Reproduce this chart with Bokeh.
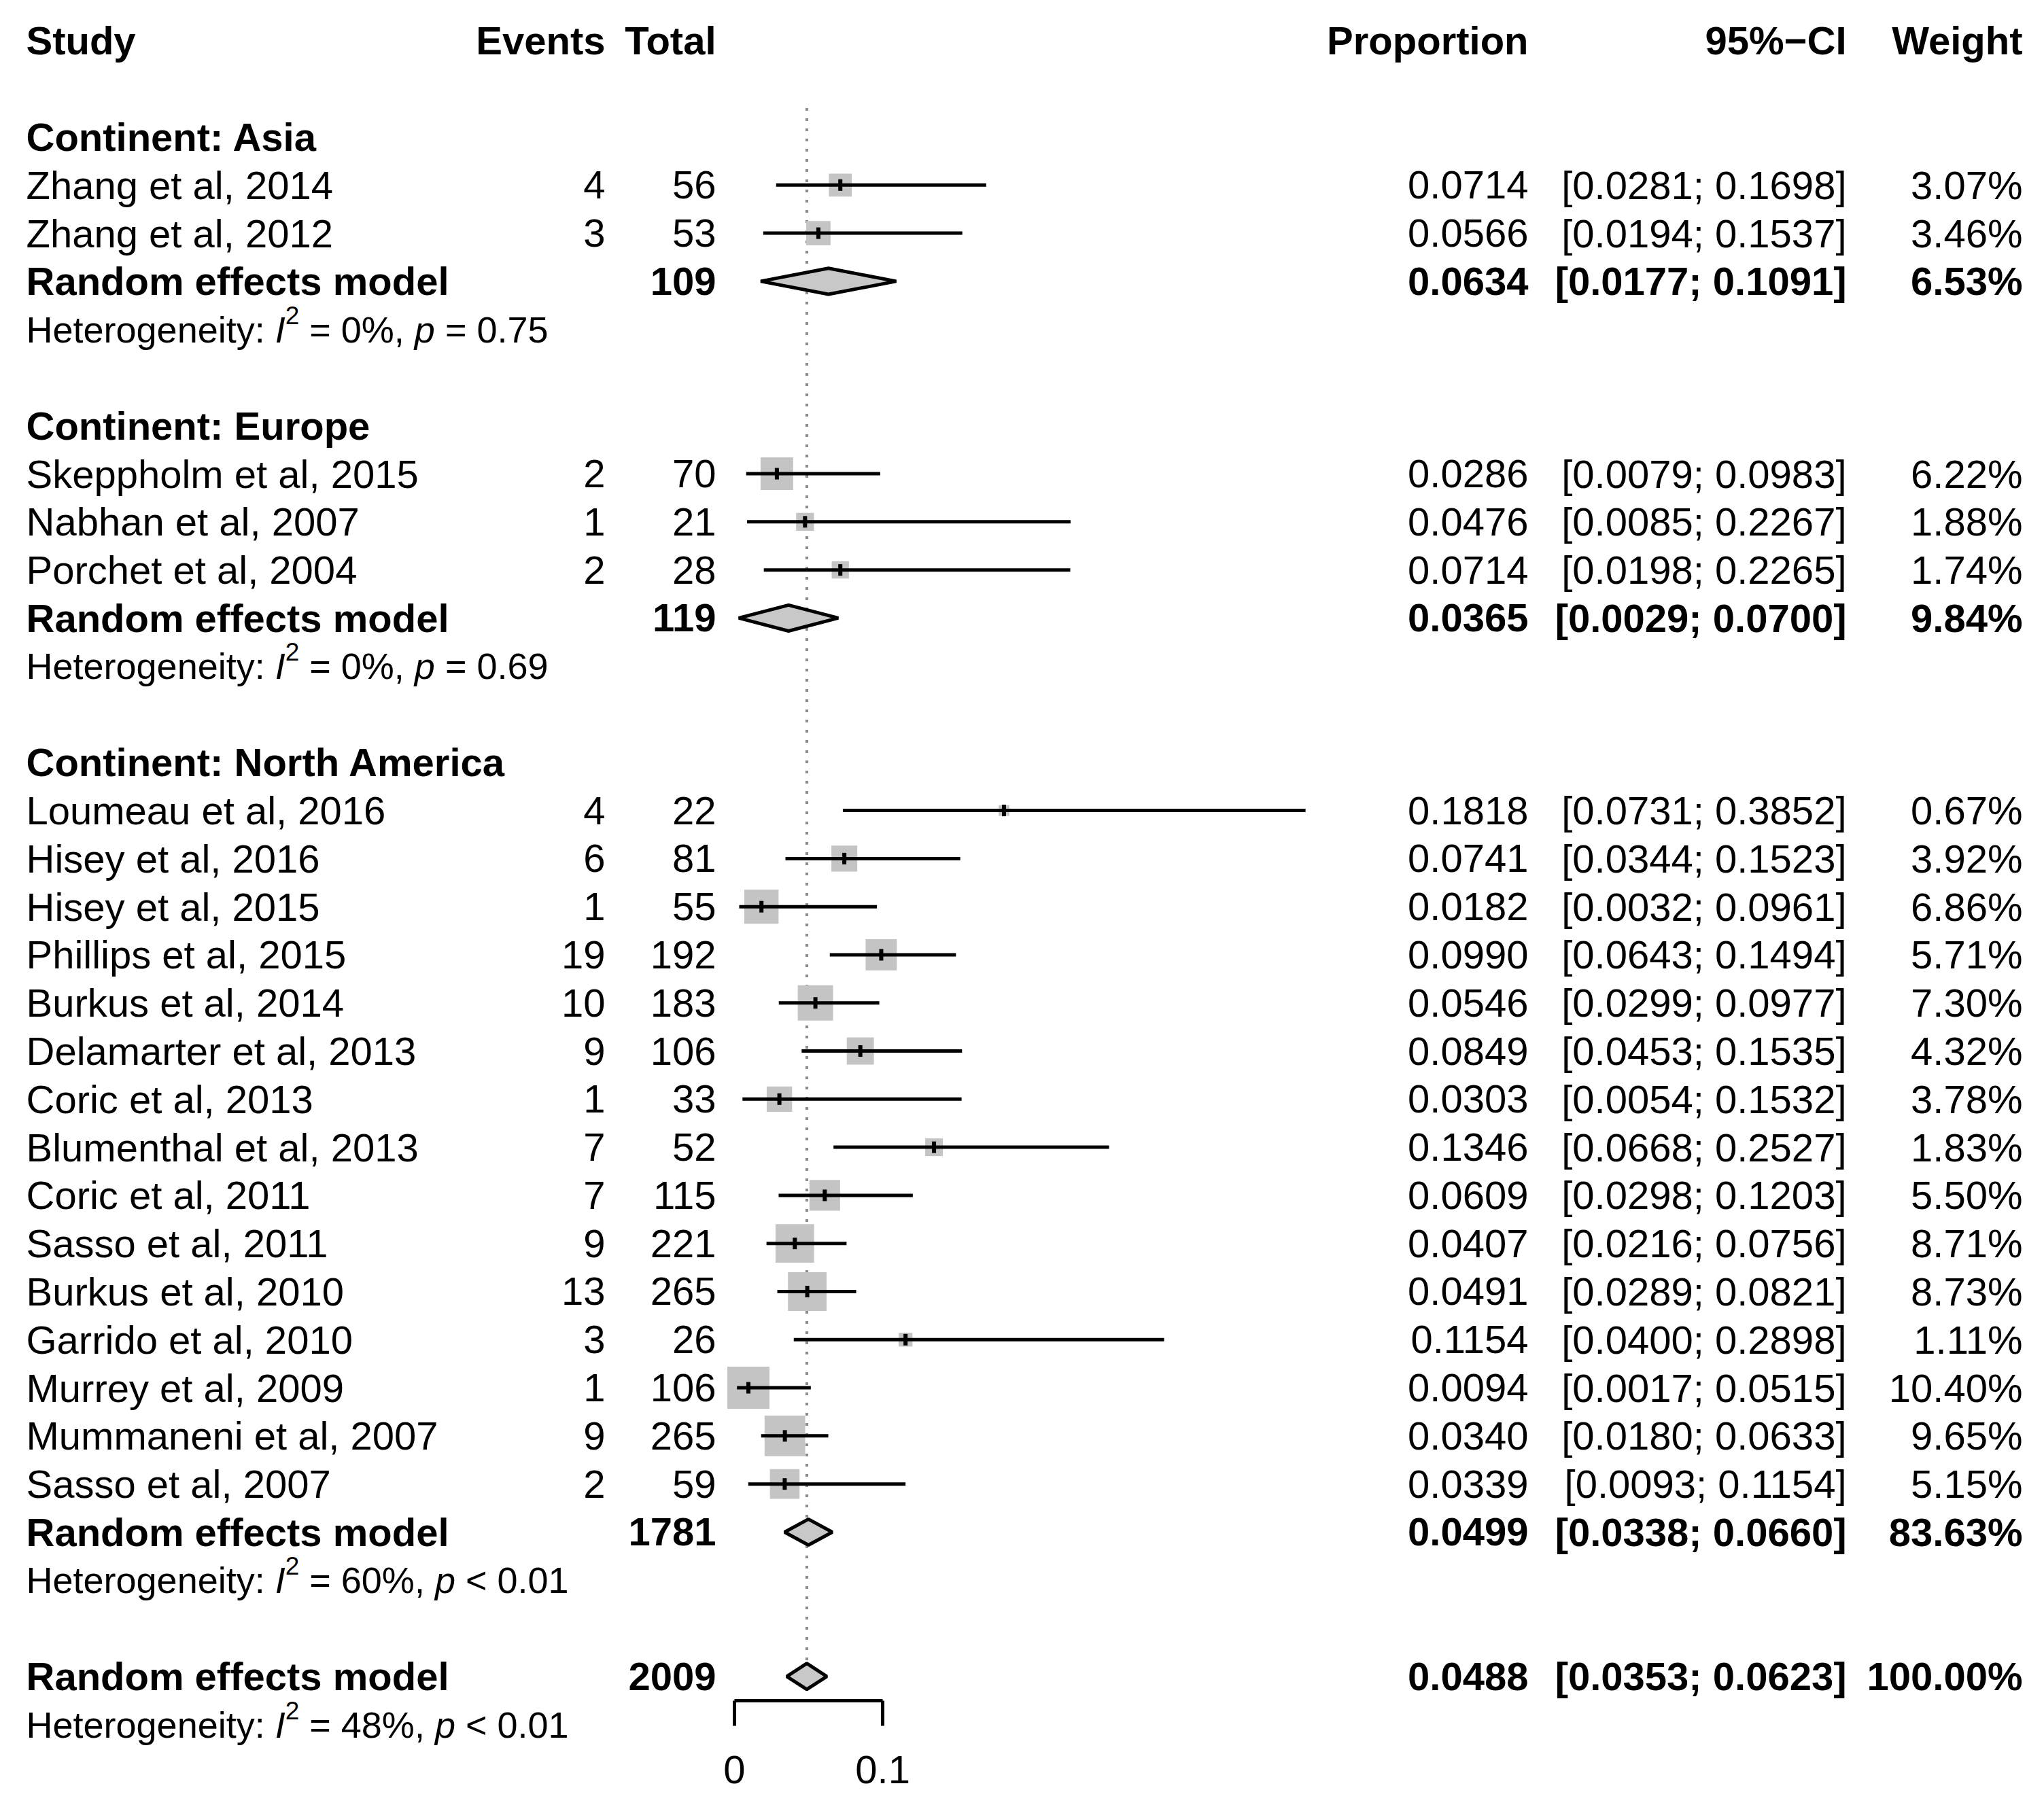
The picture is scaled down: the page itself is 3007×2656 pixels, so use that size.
from bokeh.plotting import figure
from bokeh.models import Range1d, LinearAxis, FixedTicker, NumeralTickFormatter, ColumnDataSource
from bokeh.embed import file_html
from bokeh.resources import INLINE
from bokeh.core.properties import value

# ---------------- data ----------------
groups = ["Asia", "Europe", "North America"]
study = ["Zhang et al, 2014", "Zhang et al, 2012",
         "Skeppholm et al, 2015", "Nabhan et al, 2007", "Porchet et al, 2004",
         "Loumeau et al, 2016", "Hisey et al, 2016", "Hisey et al, 2015", "Phillips et al, 2015",
         "Burkus et al, 2014", "Delamarter et al, 2013", "Coric et al, 2013", "Blumenthal et al, 2013",
         "Coric et al, 2011", "Sasso et al, 2011", "Burkus et al, 2010", "Garrido et al, 2010",
         "Murrey et al, 2009", "Mummaneni et al, 2007", "Sasso et al, 2007"]
study_group = [0, 0, 1, 1, 1] + [2] * 15
events = [4, 3, 2, 1, 2, 4, 6, 1, 19, 10, 9, 1, 7, 7, 9, 13, 3, 1, 9, 2]
total = [56, 53, 70, 21, 28, 22, 81, 55, 192, 183, 106, 33, 52, 115, 221, 265, 26, 106, 265, 59]
prop = [0.0714, 0.0566, 0.0286, 0.0476, 0.0714, 0.1818, 0.0741, 0.0182, 0.0990, 0.0546,
        0.0849, 0.0303, 0.1346, 0.0609, 0.0407, 0.0491, 0.1154, 0.0094, 0.0340, 0.0339]
ci_lo = [0.0281, 0.0194, 0.0079, 0.0085, 0.0198, 0.0731, 0.0344, 0.0032, 0.0643, 0.0299,
         0.0453, 0.0054, 0.0668, 0.0298, 0.0216, 0.0289, 0.0400, 0.0017, 0.0180, 0.0093]
ci_hi = [0.1698, 0.1537, 0.0983, 0.2267, 0.2265, 0.3852, 0.1523, 0.0961, 0.1494, 0.0977,
         0.1535, 0.1532, 0.2527, 0.1203, 0.0756, 0.0821, 0.2898, 0.0515, 0.0633, 0.1154]
weight = [3.07, 3.46, 6.22, 1.88, 1.74, 0.67, 3.92, 6.86, 5.71, 7.30,
          4.32, 3.78, 1.83, 5.50, 8.71, 8.73, 1.11, 10.40, 9.65, 5.15]

sub_total = [109, 119, 1781]
sub_prop = [0.0634, 0.0365, 0.0499]
sub_lo = [0.0177, 0.0029, 0.0338]
sub_hi = [0.1091, 0.0700, 0.0660]
sub_weight = [6.53, 9.84, 83.63]
sub_i2 = ["0%", "0%", "60%"]
sub_p = ["= 0.75", "= 0.69", "< 0.01"]

all_total = [2009]
all_prop = [0.0488]
all_lo = [0.0353]
all_hi = [0.0623]
all_weight = [100.00]
all_i2 = ["48%"]
all_p = ["< 0.01"]

headers = ["Study", "Events", "Total", "Proportion", "95%\u2212CI", "Weight"]
x_ticks = [0, 0.1]

# ---------------- layout ----------------
W, H = 2991, 2640
X0PX, PXU = 1080.0, 2181.0      # pixel of proportion 0, pixels per unit
ROW0, ROWH = 59.45, 70.79       # pixel of row 0, pixels per row
FONT = "Liberation Sans"
FS = 58
FS_HET = 54
COLS = {"study": 38, "events": 890, "total": 1053, "prop": 2248, "ci": 2716, "weight": 2975}

p = figure(width=W, height=H, output_backend="svg", toolbar_location=None,
           x_range=Range1d(-X0PX / PXU, (W - X0PX) / PXU),
           y_range=Range1d((H - ROW0) / ROWH, -ROW0 / ROWH),
           x_axis_type=None, y_axis_type=None, min_border=0,
           outline_line_color=None, background_fill_color="white", border_fill_color="white")
p.extra_x_ranges = {"px": Range1d(0, W)}

# row assignment
r = 2
title_rows, study_rows, sub_rows, het_rows = [], [], [], []
for gi, g in enumerate(groups):
    title_rows.append(r); r += 1
    for si, sg in enumerate(study_group):
        if sg == gi:
            study_rows.append(r); r += 1
    sub_rows.append(r); r += 1
    het_rows.append(r); r += 1
    r += 1
overall_row = r
overall_het = r + 1


def put(xcol, ys, texts, align, bold=False, italic=False, size=FS, xs=None, y_off=0):
    x = xs if xs is not None else [COLS[xcol]] * len(ys)
    style = "bold" if bold else ("italic" if italic else "normal")
    p.text(x=x, y=ys, text=texts, x_range_name="px", text_align=align, text_baseline="middle",
           text_font=value(FONT), text_font_size=f"{size}px", text_font_style=style,
           text_color="black", y_offset=y_off)


f4 = lambda v: f"{v:.4f}"
ci = lambda a, b: f"[{a:.4f}; {b:.4f}]"
wt = lambda w: f"{w:.2f}%"

# headers
put("study", [0], [headers[0]], "left", bold=True)
put("events", [0], [headers[1]], "right", bold=True)
put("total", [0], [headers[2]], "right", bold=True)
put("prop", [0], [headers[3]], "right", bold=True)
put("ci", [0], [headers[4]], "right", bold=True)
put("weight", [0], [headers[5]], "right", bold=True)

# group titles
put("study", title_rows, [f"Continent: {g}" for g in groups], "left", bold=True)

# study rows
put("study", study_rows, study, "left")
put("events", study_rows, [str(e) for e in events], "right")
put("total", study_rows, [str(t) for t in total], "right")
put("prop", study_rows, [f4(v) for v in prop], "right")
put("ci", study_rows, [ci(a, b) for a, b in zip(ci_lo, ci_hi)], "right")
put("weight", study_rows, [wt(w) for w in weight], "right")

# summary rows
s_rows = sub_rows + [overall_row]
s_total = sub_total + all_total
s_prop = sub_prop + all_prop
s_lo = sub_lo + all_lo
s_hi = sub_hi + all_hi
s_w = sub_weight + all_weight
put("study", s_rows, ["Random effects model"] * len(s_rows), "left", bold=True)
put("total", s_rows, [str(t) for t in s_total], "right", bold=True)
put("prop", s_rows, [f4(v) for v in s_prop], "right", bold=True)
put("ci", s_rows, [ci(a, b) for a, b in zip(s_lo, s_hi)], "right", bold=True)
put("weight", s_rows, [wt(w) for w in s_w], "right", bold=True)

# heterogeneity lines (mixed styles)
AW = {' ': 278, 'H': 722, 'e': 556, 't': 278, 'r': 333, 'o': 556, 'g': 556, 'n': 556, 'i': 222,
      'y': 500, ':': 278, 'I': 278, '=': 584, '%': 889, ',': 278, 'p': 556, '.': 278, '<': 584}


def tw(s, size):
    return sum(AW.get(c, 556) for c in s) * size / 1000.0


h_rows = het_rows + [overall_het]
h_i2 = sub_i2 + all_i2
h_p = sub_p + all_p
for row, i2, pv in zip(h_rows, h_i2, h_p):
    x = COLS["study"]
    segs = [("Heterogeneity: ", "normal", FS_HET, 0),
            ("I", "italic", FS_HET, 0),
            ("2", "normal", int(FS_HET * 0.7), -21),
            (f" = {i2}, ", "normal", FS_HET, 0),
            ("p", "italic", FS_HET, 0),
            (f" {pv}", "normal", FS_HET, 0)]
    for s, st, sz, yo in segs:
        lead = len(s) - len(s.lstrip(" "))
        core = s.strip(" ")
        put(None, [row], [core], "left", italic=(st == "italic"), size=sz,
            xs=[x + tw(" " * lead, sz)], y_off=yo)
        x += tw(s, sz)

# reference (dotted) line at overall estimate
HH = 0.27  # half-height of diamonds (rows)
p.segment(x0=all_prop, y0=[1.4], x1=all_prop, y1=[overall_row - HH],
          line_color="#8a8a8a", line_width=4, line_dash="4 11")

# study squares, CI lines, centre marks
side = [62.0 * (w / max(weight)) ** 0.5 for w in weight]
src = ColumnDataSource(dict(y=study_rows, est=prop, lo=ci_lo, hi=ci_hi, side=side,
                            ytop=[y - 0.12 for y in study_rows], ybot=[y + 0.12 for y in study_rows]))
p.scatter(x="est", y="y", size="side", marker="square", fill_color="#c4c4c4", line_color=None, source=src)
p.segment(x0="lo", y0="y", x1="hi", y1="y", line_color="black", line_width=5, source=src)
p.segment(x0="est", y0="ytop", x1="est", y1="ybot", line_color="black", line_width=6, source=src)

# diamonds
xs = [[a, e, b, e] for a, e, b in zip(s_lo, s_prop, s_hi)]
ys = [[y, y - HH, y, y + HH] for y in s_rows]
p.patches(xs=xs, ys=ys, fill_color="#c8c8c8", line_color="black", line_width=5)

# x axis bracket
ax = LinearAxis(ticker=FixedTicker(ticks=x_ticks), bounds=(min(x_ticks), max(x_ticks)),
                fixed_location=overall_row + 0.5, formatter=NumeralTickFormatter(format="0.[0]"))
ax.major_tick_in = 0
ax.major_tick_out = 37
ax.minor_tick_line_color = None
ax.axis_line_width = 5
ax.axis_line_color = "black"
ax.major_tick_line_width = 5
ax.major_tick_line_color = "black"
ax.major_label_text_font = FONT
ax.major_label_text_font_size = f"{FS}px"
ax.major_label_text_color = "black"
ax.major_label_standoff = 45
p.add_layout(ax, "below")

open("out.html", "w").write(file_html(p, INLINE))
